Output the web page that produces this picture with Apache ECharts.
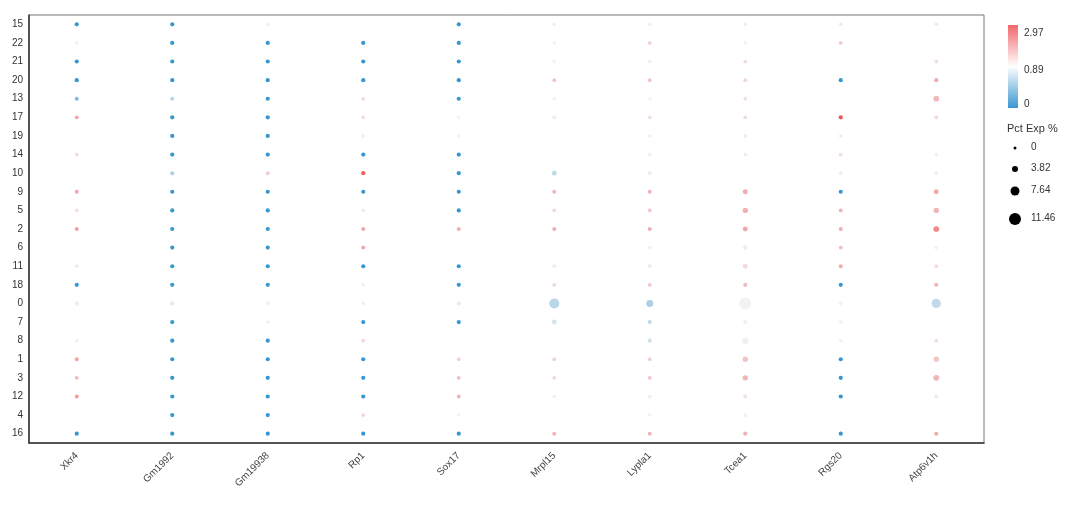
<!DOCTYPE html>
<html>
<head>
<meta charset="utf-8">
<script src="https://cdn.jsdelivr.net/npm/echarts@6/dist/echarts.min.js"></script>
<style>html,body{margin:0;padding:0;background:#fff;}#chart{width:1080px;height:511px;}</style>
</head>
<body>
<div id="chart"></div>
<script>
const genes = ['Xkr4','Gm1992','Gm19938','Rp1','Sox17','Mrpl15','Lypla1','Tcea1','Rgs20','Atp6v1h'];
const clusters = ['15','22','21','20','13','17','19','14','10','9','5','2','6','11','18','0','7','8','1','3','12','4','16'];

// average expression per gene (cluster order above, null = no dot)
const avgXkr4    = [0,0.95,0,0,0.35,1.9,null,1.2,null,1.9,1.15,2.0,null,1.0,0,1.0,null,0.95,1.9,1.6,2.0,null,0];
const avgGm1992  = [0,0,0,0,0.6,0,0,0,0.55,0,0,0,0,0,0,0.8,0,0,0,0,0,0,0];
const avgGm19938 = [0.95,0,0,0,0,0,0,0,1.4,0,0,0,0,0,0,0.95,0.95,0,0,0,0,0,0];
const avgRp1     = [null,0,0,0,1.2,1.2,1.0,0,2.8,0,1.0,1.9,1.9,0,0.95,0.95,0,1.25,0,0,0,1.25,0];
const avgSox17   = [0,0,0,0,0,0.9,0.92,0,0,0,0,1.8,null,0,0,1.05,0,null,1.3,1.55,1.7,0.95,0];
const avgMrpl15  = [0.95,0.95,0.93,1.5,0.95,1.05,null,null,0.65,1.7,1.25,1.8,null,1.0,1.25,0.62,0.75,null,1.3,1.25,0.95,null,1.7];
const avgLypla1  = [0.95,1.3,0.95,1.5,0.93,1.15,0.95,0.95,0.85,1.75,1.45,1.8,0.95,1.05,1.45,0.55,0.65,0.72,1.35,1.5,1.0,0.95,1.7];
const avgTcea1   = [1.0,0.95,1.2,1.3,1.15,1.2,1.0,1.0,null,1.85,1.75,1.85,0.98,1.2,1.65,0.9,0.95,0.95,1.5,1.7,1.15,0.95,1.75];
const avgRgs20   = [1.05,1.4,null,0,null,2.97,1.0,1.15,1.0,0,1.75,1.8,1.6,1.85,0,0.92,0.95,0.92,0,0,0,null,0];
const avgAtp6v1h = [1.05,null,1.15,1.85,1.65,1.25,null,0.95,0.95,1.85,1.7,2.3,0.95,1.2,1.75,0.65,null,1.15,1.5,1.7,1.05,null,1.85];

// percent expressing per gene
const pctXkr4    = [1.5,0.8,1.5,1.5,1.3,1.2,0,1.0,0,1.2,1.0,1.2,0,1.0,1.5,1.8,0,0.8,1.2,1.2,1.2,0,1.5];
const pctGm1992  = [1.5,1.5,1.5,1.5,1.3,1.5,1.5,1.5,1.3,1.5,1.5,1.5,1.5,1.5,1.5,1.5,1.5,1.5,1.5,1.5,1.5,1.5,1.5];
const pctGm19938 = [0.8,1.5,1.5,1.5,1.5,1.5,1.5,1.5,1.2,1.5,1.5,1.5,1.5,1.5,1.5,1.5,0.8,1.5,1.5,1.5,1.5,1.5,1.5];
const pctRp1     = [0,1.5,1.5,1.5,1.0,1.0,0.8,1.5,1.5,1.5,0.9,1.2,1.2,1.5,0.7,0.8,1.5,1.0,1.5,1.5,1.5,1.0,1.5];
const pctSox17   = [1.5,1.5,1.5,1.5,1.5,0.8,0.8,1.5,1.5,1.5,1.5,1.2,0,1.5,1.5,1.2,1.5,0,1.0,1.1,1.1,0.7,1.5];
const pctMrpl15  = [0.8,0.8,0.7,1.1,0.8,0.9,0,0,2.5,1.2,1.0,1.2,0,0.9,1.0,9,2.5,0,1.0,1.0,0.7,0,1.2];
const pctLypla1  = [0.8,0.9,0.8,1.1,0.7,0.9,0.8,0.8,1.5,1.2,1.2,1.2,0.8,0.9,1.1,5,1.5,1.5,1.1,1.2,0.9,0.7,1.2];
const pctTcea1   = [0.8,0.8,1.0,1.1,1.0,1.0,0.8,0.8,0,2.5,3,2.5,2,2.5,1.5,11.46,1.5,4,3,3,1.2,1.0,1.5];
const pctRgs20   = [0.8,1.1,0,1.5,0,1.5,0.8,1.0,0.8,1.5,1.2,1.2,1.2,1.2,1.5,1.2,0.8,0.8,1.5,1.5,1.5,0,1.5];
const pctAtp6v1h = [0.8,0,1.0,1.3,3.5,1.0,0,0.8,0.8,2.5,3,3.5,0.8,1.0,1.3,8,0,1.0,3,3.5,1.0,0,1.3];

const colorTicks = ['0','0.89','2.97'];
const sizeTicks = [0, 3.82, 7.64, 11.46];

const avgAll = [avgXkr4,avgGm1992,avgGm19938,avgRp1,avgSox17,avgMrpl15,avgLypla1,avgTcea1,avgRgs20,avgAtp6v1h];
const pctAll = [pctXkr4,pctGm1992,pctGm19938,pctRp1,pctSox17,pctMrpl15,pctLypla1,pctTcea1,pctRgs20,pctAtp6v1h];

const MID = 0.89, MAX = 2.97;
function colorPos(v){ return v <= MID ? 0.5 * v / MID : 0.5 + 0.5 * (v - MID) / (MAX - MID); }
function sizeOf(p){ return 3 + p * 0.785; }

const data = [];
avgAll.forEach((arr, gi) => {
  arr.forEach((v, ci) => {
    if (v === null) return;
    data.push([gi, ci, pctAll[gi][ci], v, colorPos(v)]);
  });
});

const BLUE = '#3896d2', WHITE = '#ffffff', DOTMID = '#f3f3f3', RED = '#ee5358';
const FONT = 'Liberation Sans, Arial, sans-serif';

const chart = echarts.init(document.getElementById('chart'), null, {renderer:'canvas'});

const graphics = [
  {type:'rect', left:1008, top:25, shape:{width:10, height:83},
   style:{fill: new echarts.graphic.LinearGradient(0,0,0,1,[
     {offset:0,color:'#f0676c'},{offset:0.5,color:WHITE},{offset:1,color:'#3a97d0'}])}},
  {type:'text', left:1024, top:28, style:{text:colorTicks[2], fontSize:10, fill:'#333', fontFamily:FONT}},
  {type:'text', left:1024, top:65, style:{text:colorTicks[1], fontSize:10, fill:'#333', fontFamily:FONT}},
  {type:'text', left:1024, top:99, style:{text:colorTicks[0], fontSize:10, fill:'#333', fontFamily:FONT}},
  {type:'text', left:1007, top:123, style:{text:'Pct Exp %', fontSize:11, fill:'#333', fontFamily:FONT}}
];
const sizeY = [148, 169, 191, 219];
sizeTicks.forEach((s, i) => {
  const r = sizeOf(s) / 2;
  graphics.push({type:'circle', shape:{cx:1015, cy:sizeY[i], r:r}, style:{fill:'#000'}});
  graphics.push({type:'text', left:1031, top:sizeY[i]-6, style:{text:String(s), fontSize:10, fill:'#333', fontFamily:FONT}});
});

chart.setOption({
  backgroundColor:'#fff',
  animation:false,
  textStyle:{fontFamily:FONT},
  grid:{left:29, right:96, top:15, bottom:68, show:true, borderColor:'#777', borderWidth:1},
  xAxis:{
    type:'category', data:genes,
    axisLine:{lineStyle:{color:'#333', width:1.5}},
    axisTick:{alignWithLabel:true, length:4, lineStyle:{color:'#333'}},
    axisLabel:{rotate:45, fontSize:10, color:'#444', margin:11, fontFamily:FONT},
    splitLine:{show:false}
  },
  yAxis:{
    type:'category', data:clusters, inverse:true,
    axisLine:{lineStyle:{color:'#333', width:1.5}},
    axisTick:{alignWithLabel:true, length:4, lineStyle:{color:'#333'}},
    axisLabel:{fontSize:10, color:'#333', margin:6, fontFamily:FONT},
    splitLine:{show:false}
  },
  visualMap:{show:false, type:'continuous', dimension:4, min:0, max:1,
    inRange:{color:[BLUE, DOTMID, RED]}},
  series:[{
    type:'scatter', data:data,
    symbolSize: d => sizeOf(d[2]),
    itemStyle:{opacity:1}
  }],
  graphic: graphics
});
</script>
</body>
</html>
